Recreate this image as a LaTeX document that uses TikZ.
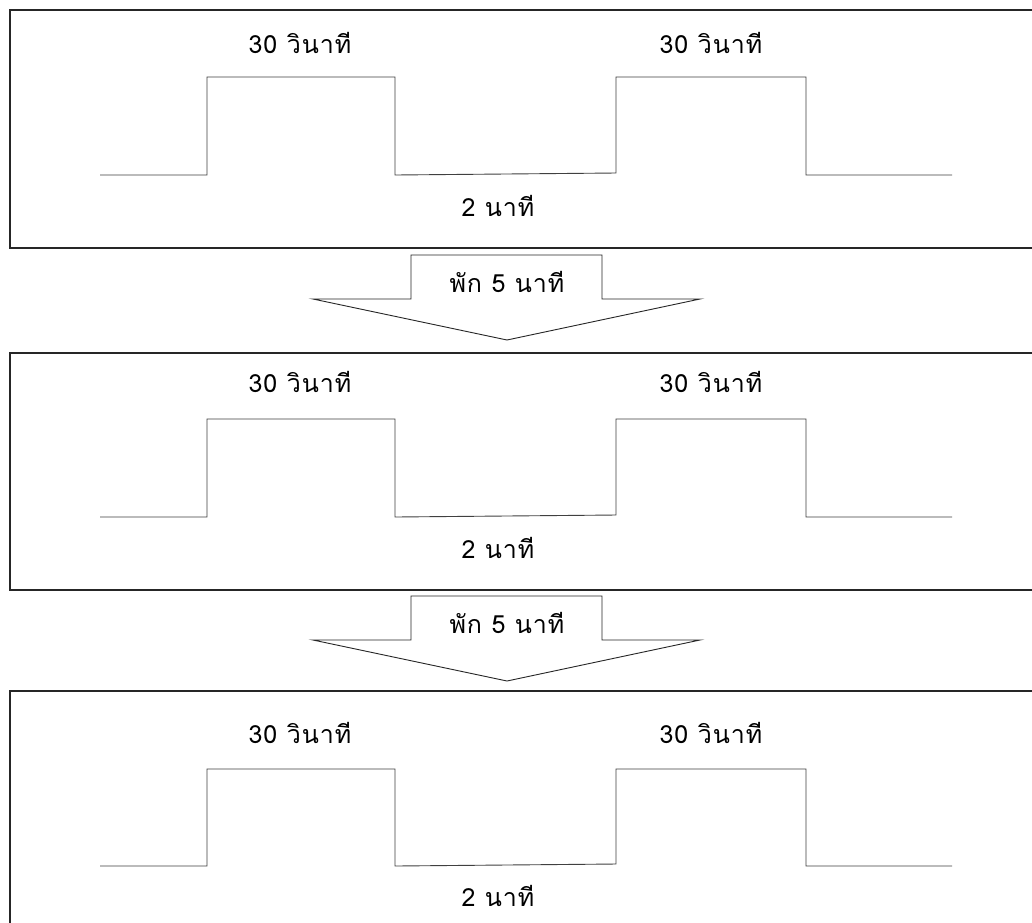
\documentclass[tikz,border=0pt]{standalone}
\usepackage{fontspec}
\newfontfamily\thaifont[Script=Thai,LetterSpace=4]{Loma}
\tikzset{
  panelbox/.style={draw=black!85, line width=1.3pt},
  wave/.style={draw=black!75, line width=0.9pt},
  lbl/.style={font=\thaifont\fontsize{25}{28}\selectfont, inner sep=0pt},
  blockarrow/.style={draw=black!85, line width=0.9pt, fill=white, line join=miter},
}
\begin{document}
\begin{tikzpicture}[x=1pt,y=-1pt]
\useasboundingbox (0,0) rectangle (1032,922);
\clip (0,0) rectangle (1032,922);
\fill[white] (0,0) rectangle (1032,922);
% panels: top, bottom, text y, pulse top, baseline, label y
\foreach \n/\top/\bot/\ty/\pt/\bl/\ly in {1/10/248/43/77/175/206, 2/353/590/382/419/517/548, 3/691/960/733/769/866/896}{
  \draw[panelbox] (1040,\top) -- (10,\top) -- (10,\bot) -- (1040,\bot);
  \coordinate (w\n a) at (100,\bl);
  \coordinate (w\n b) at (207,\bl);
  \coordinate (w\n c) at (207,\pt);
  \coordinate (w\n d) at (395,\pt);
  \coordinate (w\n e) at (395,\bl);
  \coordinate (w\n f) at (616,\bl-2);
  \coordinate (w\n g) at (616,\pt);
  \coordinate (w\n h) at (806,\pt);
  \coordinate (w\n i) at (806,\bl);
  \coordinate (w\n j) at (952,\bl);
  \draw[wave] (w\n a) -- (w\n b) -- (w\n c) -- (w\n d) -- (w\n e) -- (w\n f) -- (w\n g) -- (w\n h) -- (w\n i) -- (w\n j);
  \node[lbl] (s\n a) at (300,\ty) {30 วินาที};
  \node[lbl] (s\n b) at (711,\ty) {30 วินาที};
  \node[lbl] (m\n) at (498,\ly) {2 นาที};
}
% block arrows
\foreach \k/\dy in {1/0, 2/341}{
  \draw[blockarrow] (411,255+\dy) -- (602,255+\dy) -- (602,299+\dy) -- (700,299+\dy)
     -- (507,340+\dy) -- (313,299+\dy) -- (411,299+\dy) -- cycle;
  \node[lbl] (r\k) at (507,282+\dy) {พัก 5 นาที};
}
\end{tikzpicture}
\end{document}
